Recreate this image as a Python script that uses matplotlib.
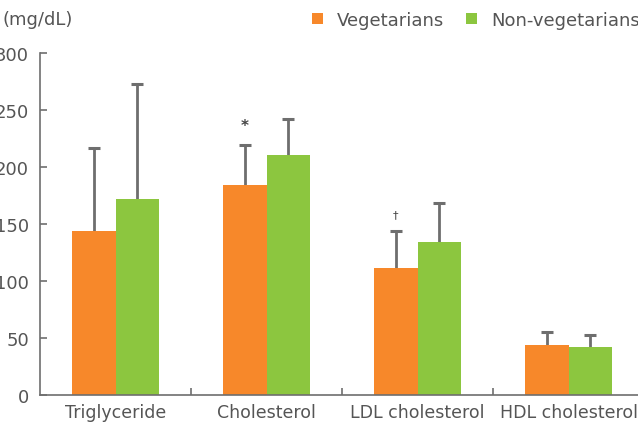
import numpy as np
import matplotlib
matplotlib.use("Agg")
import matplotlib.pyplot as plt

plt.rcParams['font.family'] = ['DejaVu Sans']

categories = ['Triglyceride', 'Cholesterol', 'LDL cholesterol', 'HDL cholesterol']
veg_mean = [144, 184, 111, 44]
veg_sd = [73, 35.5, 33, 11]
nonveg_mean = [172, 210.5, 134.5, 42]
nonveg_sd = [101, 31.5, 33.5, 11]
y_ticks = [0, 50, 100, 150, 200, 250, 300]
marks = {1: '*', 2: '†'}  # significance marks above vegetarian bars

orange = '#F7882A'
green = '#8CC63F'
grey = '#6e6e6e'
txt = '#555555'

fig = plt.figure(figsize=(6.38, 4.35), dpi=100)
ax = fig.add_axes([40 / 638, 39 / 435, 604 / 638, 342 / 435])

x = np.arange(len(categories))
w = 0.285
ax.bar(x - w / 2, veg_mean, w, color=orange, label='Vegetarians', zorder=2)
ax.bar(x + w / 2, nonveg_mean, w, color=green, label='Non-vegetarians', zorder=2)

# upper-only error bars with a cap at the top
for xs, m, sd in [(x - w / 2, veg_mean, veg_sd), (x + w / 2, nonveg_mean, nonveg_sd)]:
    tops = np.array(m) + np.array(sd)
    ax.vlines(xs, m, tops, color=grey, lw=2, zorder=1)
    ax.plot(xs, tops, ls='none', marker='_', ms=9, mew=2.2, color=grey, zorder=1)

for i, m in marks.items():
    top = veg_mean[i] + veg_sd[i]
    ax.text(i - w / 2, top + 10, m, ha='center', va='bottom',
            fontsize=11 if m == '*' else 8, color='#444444', fontweight='bold' if m == '*' else 'normal')

ax.set_xlim(-0.5, 3.5)
ax.set_ylim(0, 300)
ax.set_yticks(y_ticks)
ax.set_yticklabels([str(t) for t in y_ticks], fontsize=13, color=txt)
ax.set_xticks(x)
ax.set_xticklabels(categories, fontsize=12.5, color=txt)
ax.set_xticks(np.arange(0.5, 3.5, 1), minor=True)
ax.tick_params(axis='x', which='major', length=0, pad=6)
ax.tick_params(axis='x', which='minor', direction='in', length=5, color=grey, width=1.2)
ax.tick_params(axis='y', direction='in', length=5, color=grey, width=1.2, pad=8)

for s in ['top', 'right']:
    ax.spines[s].set_visible(False)
for s in ['left', 'bottom']:
    ax.spines[s].set_color(grey)
    ax.spines[s].set_linewidth(1.2)

fig.text(2 / 638, 1 - 20 / 435, '(mg/dL)', fontsize=13, color=txt, va='center')

leg = ax.legend(loc='lower left', bbox_to_anchor=(312 / 638, 1 - 30 / 435),
                bbox_transform=fig.transFigure, ncol=2, frameon=False,
                handlelength=0.6, handleheight=0.6, handletextpad=0.8,
                columnspacing=1.2, fontsize=13, borderaxespad=0, borderpad=0)
for t in leg.get_texts():
    t.set_color(txt)

fig.savefig('out.png', dpi=100)
